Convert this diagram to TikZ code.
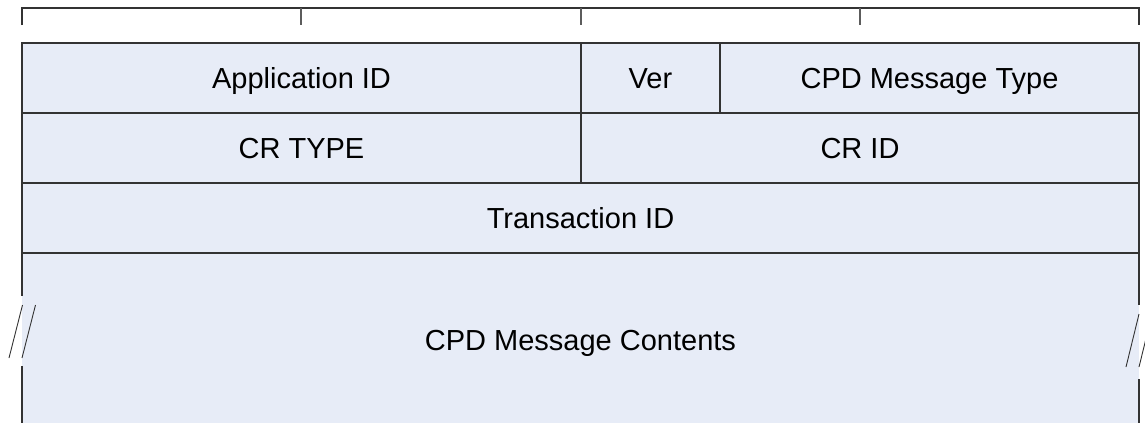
\documentclass[tikz,border=0pt]{standalone}
\usepackage{fontspec}
\setmainfont{Liberation Sans}
\definecolor{cellfill}{HTML}{E7ECF7}
\definecolor{rulecol}{HTML}{333333}
\begin{document}
\begin{tikzpicture}[x=1pt,y=-1pt,
  edge/.style={draw=rulecol, line width=1.1pt},
  fieldfont/.style={font=\fontsize{29}{33}\selectfont, text height=20.8pt, text depth=0pt},
  cell/.style={edge, fill=cellfill, inner sep=0pt, minimum height=70pt, fieldfont},
  celltext/.style={inner sep=0pt, fieldfont},
  tick/.style={draw=rulecol!80, line width=1.1pt}]
  % page area
  \fill[white] (0,0) rectangle (1145,423);
  \useasboundingbox (0,0) rectangle (1145,423);

  % bit ruler along the top
  \draw[edge] (22,25) -- (22,8) -- (1139,8) -- (1139,25);
  \foreach \x in {301,581,860} \draw[tick] (\x,8) -- (\x,25);

  % open-ended contents field (filled first so the borders above stay on top)
  \fill[cellfill] (22,253) rectangle (1139,423);

  % row 1
  \node[cell, minimum width=559pt] (appid) at (301.5,78) {Application ID};
  \node[cell, minimum width=139pt] (ver)   at (650.5,78) {Ver};
  \node[cell, minimum width=419pt] (mtype) at (929.5,78) {CPD Message Type};
  % row 2
  \node[cell, minimum width=559pt] (crtype) at (301.5,148) {CR TYPE};
  \node[cell, minimum width=558pt] (crid)   at (860,148)   {CR ID};
  % row 3
  \node[cell, minimum width=1117pt] (trans) at (580.5,218) {Transaction ID};

  \node[celltext] (contents) at (580.5,340) {CPD Message Contents};
  \draw[edge] (22,253) -- (22,296);
  \draw[edge] (22,366) -- (22,423);
  \draw[edge] (1139,253) -- (1139,305);
  \draw[edge] (1139,379) -- (1139,423);
  % break marks
  \draw[edge, line width=0.9pt] (9,358) -- (22.5,305);
  \draw[edge, line width=0.9pt] (22,358) -- (35.5,305);
  \draw[edge, line width=0.9pt] (1126,367) -- (1139,314);
  \draw[edge, line width=0.9pt] (1139,367) -- (1152,314);
\end{tikzpicture}
\end{document}
